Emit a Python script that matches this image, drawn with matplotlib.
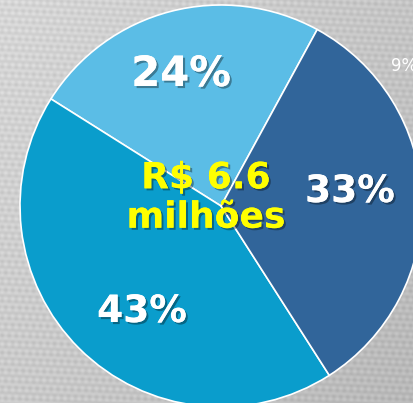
import numpy as np
import matplotlib
matplotlib.use("Agg")
import matplotlib.pyplot as plt
import matplotlib.patheffects as pe

# ---------------------------
# Data
# ---------------------------
labels = ["24%", "43%", "33%"]
shares = [24, 43, 33]
colors = ["#5BBDE6", "#0A9DCC", "#31659A"]
total_text = "R$ 6.6\nmilhões"
stray_label = "9%"

# ---------------------------
# Figure (pixel coordinates, y up)
# ---------------------------
W, H = 413, 403
fig = plt.figure(figsize=(W / 100, H / 100), dpi=100)
ax = fig.add_axes([0, 0, 1, 1])

# linen-like grey background
xx, yy = np.meshgrid(np.arange(W), np.arange(H))
bg = 0.84 - 0.07 * (xx / W) - 0.05 * (1 - yy / H)
bg += 0.025 * np.sin(xx * 0.9) * np.sin(yy * 0.35) + 0.02 * np.sin(yy * 1.1 + xx * 0.05)
ax.imshow(bg, cmap="gray", vmin=0, vmax=1, extent=(0, W, 0, H), origin="lower", zorder=0)

# ---------------------------
# Pie
# ---------------------------
wedges, _ = ax.pie(
    shares,
    colors=colors,
    startangle=61.4,
    counterclock=True,
    center=(221, 197),
    radius=201,
    wedgeprops=dict(edgecolor="white", linewidth=1.2),
    frame=True,
)
ax.set_xlim(0, W)
ax.set_ylim(0, H)
ax.set_aspect("equal")
ax.axis("off")
for w in wedges:
    w.set_zorder(2)

shadow = [pe.withSimplePatchShadow(offset=(1.5, -1.5), shadow_rgbFace="black", alpha=0.35), pe.Normal()]

font = ["DejaVu Sans"]
ax.text(181, H - 74, labels[0], color="white", fontsize=30, fontweight="bold",
        family=font, ha="center", va="center", zorder=5, path_effects=shadow)
ax.text(142, H - 312, labels[1], color="white", fontsize=27, fontweight="bold",
        family=font, ha="center", va="center", zorder=5, path_effects=shadow)
ax.text(350, H - 192, labels[2], color="white", fontsize=27, fontweight="bold",
        family=font, ha="center", va="center", zorder=5, path_effects=shadow)

ax.text(206, H - 198, total_text, color="#FFFF00", fontsize=26, fontweight="bold",
        family=font, ha="center", va="center", linespacing=1.2, zorder=6, path_effects=shadow)

ax.text(391, H - 66, stray_label, color="white", fontsize=12, family=font,
        ha="left", va="center", zorder=5)

fig.savefig("out.png", dpi=100)
